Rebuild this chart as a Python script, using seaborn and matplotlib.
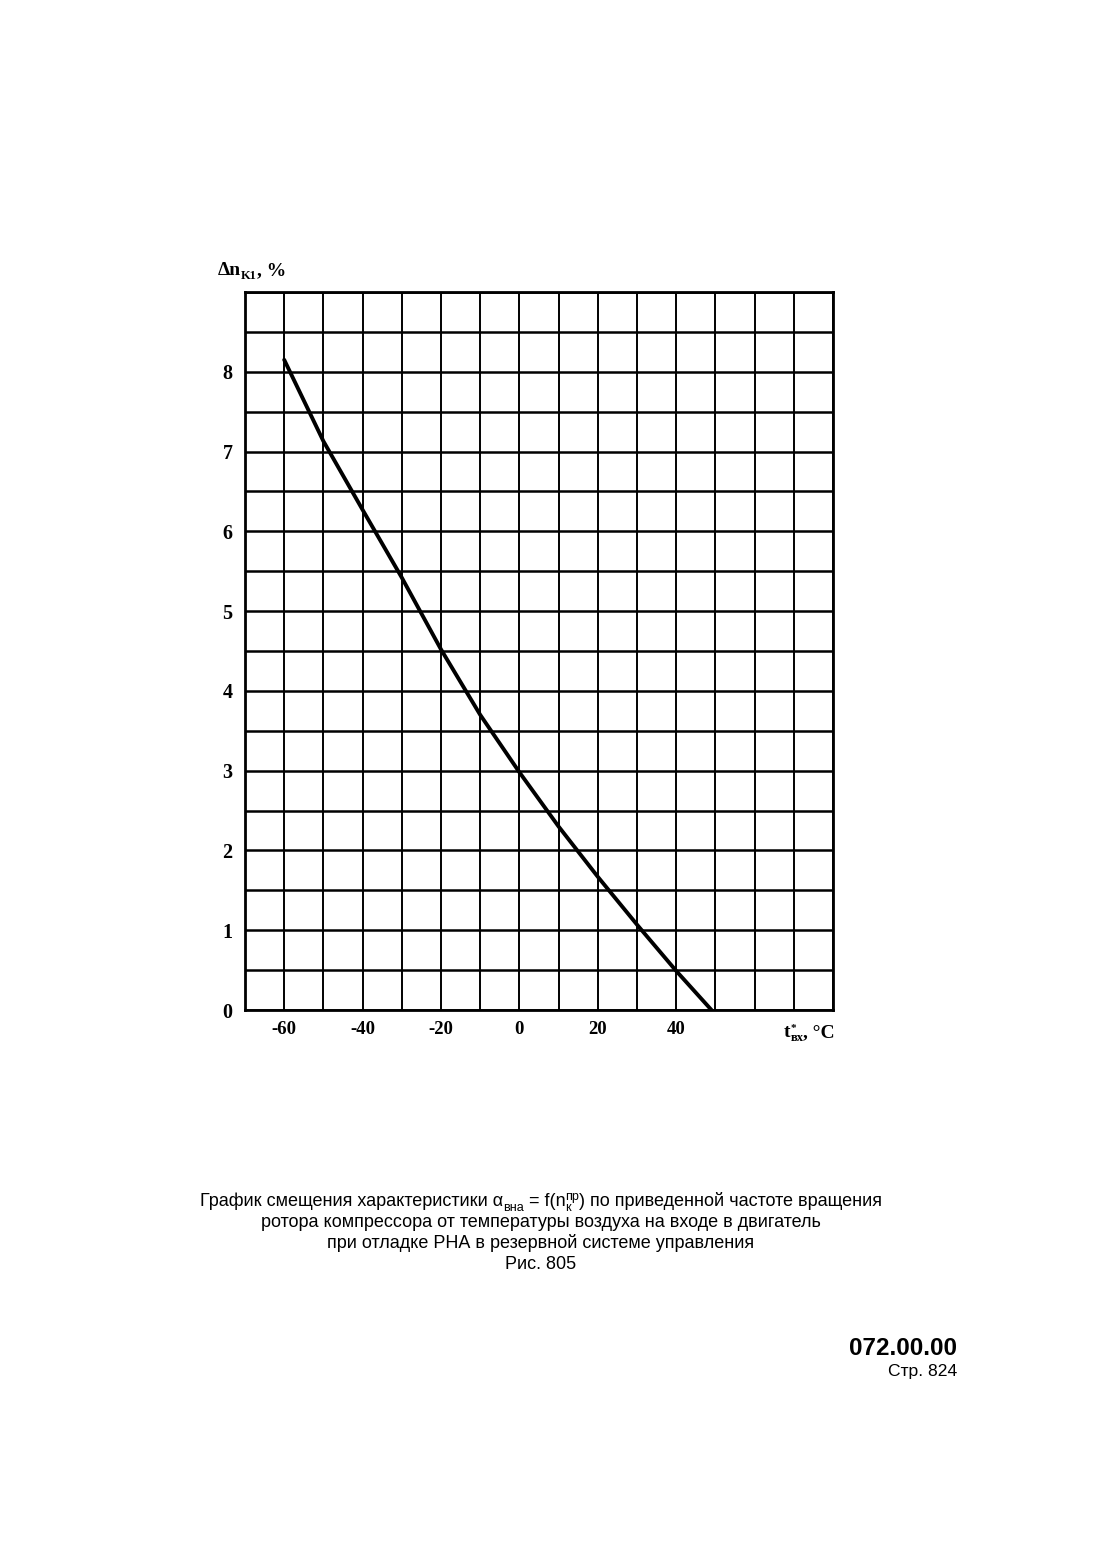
import numpy as np
import pandas as pd
import matplotlib
matplotlib.use("Agg")
import matplotlib.pyplot as plt
import seaborn as sns
from matplotlib.transforms import IdentityTransform

# ---- data ----
t_in = [-60, -50, -40, -30, -20, -10, 0, 10, 20, 30, 40, 49]
dn_k1 = [8.15, 7.13, 6.27, 5.42, 4.52, 3.70, 2.98, 2.30, 1.67, 1.07, 0.49, 0.0]
x_tick_values = [-60, -40, -20, 0, 20, 40]
y_tick_values = [0, 1, 2, 3, 4, 5, 6, 7, 8]

caption_lines = [
    "ротора компрессора от температуры воздуха на входе в двигатель",
    "при отладке РНА в резервной системе управления",
    "Рис. 805",
]
doc_code = "072.00.00"
page_label = "Стр. 824"

sns.set_theme(style="white")
plt.rcParams["font.family"] = ["Liberation Serif", "DejaVu Serif"]
plt.rcParams["text.color"] = "black"
plt.rcParams["xtick.color"] = "black"
plt.rcParams["ytick.color"] = "black"

W, H = 1102, 1550
fig = plt.figure(figsize=(W / 100, H / 100), dpi=100)
fig.patch.set_facecolor("white")
ax = fig.add_axes([245 / W, 1 - 1010 / H, (833 - 245) / W, (1010 - 292) / H])

df = pd.DataFrame({"t": t_in, "dn": dn_k1})
sns.lineplot(data=df, x="t", y="dn", ax=ax, color="black", lw=2.8, zorder=5)

ax.set_xlim(-70, 80)
ax.set_ylim(0, 9)
ax.set_xticks(x_tick_values)
ax.set_xticklabels([str(v) for v in x_tick_values])
ax.set_yticks(y_tick_values)
ax.set_yticklabels([str(v) for v in y_tick_values])
ax.grid(False)
for xv in np.arange(-70, 81, 10):
    ax.axvline(xv, color="black", lw=1.4, zorder=1)
for yv in np.arange(0, 9.01, 0.5):
    ax.axhline(yv, color="black", lw=1.8, zorder=1)
ax.tick_params(axis="both", which="both", length=0, labelcolor="black")
ax.tick_params(axis="y", pad=9, labelsize=14.5)
ax.tick_params(axis="x", pad=8, labelsize=13.5)
for lab in ax.get_xticklabels() + ax.get_yticklabels():
    lab.set_fontweight("bold")
    lab.set_fontfamily("Liberation Serif")
for s in ax.spines.values():
    s.set_color("black")
    s.set_linewidth(2)
ax.set_xlabel("")
ax.set_ylabel("")

renderer = fig.canvas.get_renderer()


def draw_pieces(pieces, x, y_img, ha="left"):
    """pieces: (text, size, dy_px, weight, family, advance)"""
    objs = []
    widths = []
    for txt, size, dy, weight, family, adv in pieces:
        t = fig.text(0, 0, txt, fontsize=size, fontweight=weight, family=family,
                     color="black", transform=IdentityTransform(),
                     va="baseline", ha="left")
        bb = t.get_window_extent(renderer=renderer)
        objs.append((t, dy, adv))
        widths.append(bb.width)
    total = 0.0
    maxw = 0.0
    for (t, dy, adv), w in zip(objs, widths):
        if adv:
            total += max(w, maxw)
            maxw = 0.0
        else:
            maxw = max(maxw, w)
    total += maxw
    if ha == "center":
        cx = x - total / 2
    elif ha == "right":
        cx = x - total
    else:
        cx = x
    yb = H - y_img
    maxw = 0.0
    for (t, dy, adv), w in zip(objs, widths):
        t.set_position((cx, yb + dy))
        if adv:
            cx += max(w, maxw)
            maxw = 0.0
        else:
            maxw = max(maxw, w)


serif = ["Liberation Serif", "DejaVu Serif"]
sans = ["Liberation Sans", "DejaVu Sans"]

# y axis label
draw_pieces([
    ("Δn", 14, 0, "bold", serif, True),
    ("K1", 9, -4, "bold", serif, True),
    (", %", 14, 0, "bold", serif, True),
], 218, 275)

# x axis label
draw_pieces([
    ("t", 14, 0, "bold", serif, True),
    ("*", 8, 6, "bold", serif, False),
    ("вх", 9, -4, "bold", serif, True),
    (", °C", 14, 0, "bold", serif, True),
], 835, 1037, ha="right")

# caption
cs = 13
draw_pieces([
    ("График смещения характеристики α", cs, 0, "normal", sans, True),
    ("вна", cs * 0.7, -5, "normal", sans, True),
    (" = f(n", cs, 0, "normal", sans, True),
    ("пр", cs * 0.7, 6, "normal", sans, False),
    ("к", cs * 0.7, -5, "normal", sans, True),
    (") по приведенной частоте вращения", cs, 0, "normal", sans, True),
], 541, 1206, ha="center")
for i, line in enumerate(caption_lines):
    fig.text(541, H - (1227 + 21 * i), line, fontsize=cs, family=sans,
             color="black", transform=IdentityTransform(),
             ha="center", va="baseline")

fig.text(957, H - 1355, doc_code, fontsize=17.5, fontweight="bold", family=sans,
         color="black", transform=IdentityTransform(), ha="right", va="baseline")
fig.text(957, H - 1376, page_label, fontsize=12.6, family=sans,
         color="black", transform=IdentityTransform(), ha="right", va="baseline")

fig.savefig("out.png", dpi=100, facecolor="white")
